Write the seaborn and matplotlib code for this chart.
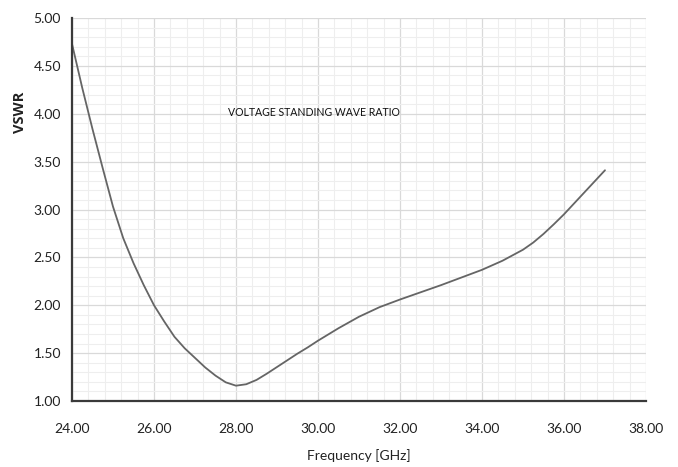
import matplotlib
matplotlib.use("Agg")
import matplotlib.pyplot as plt
from matplotlib.ticker import MultipleLocator, FormatStrFormatter
import seaborn as sns
import pandas as pd

freq_ghz = [24.0, 24.25, 24.5, 24.75, 25.0, 25.25, 25.5, 25.75, 26.0, 26.25,
            26.5, 26.75, 27.0, 27.25, 27.5, 27.75, 28.0, 28.25, 28.5, 28.75,
            29.0, 29.25, 29.5, 29.75, 30.0, 30.5, 31.0, 31.5, 32.0, 32.5,
            33.0, 33.5, 34.0, 34.5, 35.0, 35.25, 35.5, 35.75, 36.0, 36.25,
            36.5, 36.75, 37.0]
vswr = [4.73, 4.27, 3.84, 3.43, 3.03, 2.70, 2.44, 2.21, 2.00, 1.83,
        1.67, 1.55, 1.45, 1.35, 1.265, 1.195, 1.16, 1.175, 1.22, 1.285,
        1.355, 1.425, 1.495, 1.56, 1.63, 1.76, 1.88, 1.98, 2.06, 2.135,
        2.21, 2.29, 2.37, 2.465, 2.58, 2.655, 2.745, 2.845, 2.95, 3.065,
        3.18, 3.295, 3.41]

title_text = "VOLTAGE STANDING WAVE RATIO"
x_label = "Frequency [GHz]"
y_label = "VSWR"

df = pd.DataFrame({"freq": freq_ghz, "vswr": vswr})

sns.set_theme(style="white")
plt.rcParams["font.family"] = ["Lato", "DejaVu Sans"]

fig = plt.figure(figsize=(6.78, 4.67), dpi=100)
ax = fig.add_axes([72/678, 1-401/467, 574/678, 383/467])

sns.lineplot(data=df, x="freq", y="vswr", ax=ax, color="#656565", linewidth=1.3)

ax.set_xlim(24, 38)
ax.set_ylim(1, 5)
ax.xaxis.set_major_locator(MultipleLocator(2))
ax.xaxis.set_minor_locator(MultipleLocator(0.4))
ax.yaxis.set_major_locator(MultipleLocator(0.5))
ax.yaxis.set_minor_locator(MultipleLocator(0.1))
ax.xaxis.set_major_formatter(FormatStrFormatter("%.2f"))
ax.yaxis.set_major_formatter(FormatStrFormatter("%.2f"))

ax.grid(which="major", color="#d9d9d9", linewidth=0.9)
ax.grid(which="minor", color="#eeeeee", linewidth=0.8)
ax.set_axisbelow(True)

for s in ["top", "right"]:
    ax.spines[s].set_visible(False)
for s in ["left", "bottom"]:
    ax.spines[s].set_color("#3a3a3a")
    ax.spines[s].set_linewidth(1.6)

ax.tick_params(axis="both", which="both", length=0, labelsize=10, colors="#222222")
ax.tick_params(axis="x", pad=16)
ax.tick_params(axis="y", pad=8)

ax.set_xlabel(x_label, fontsize=10, color="#222222", labelpad=10)
ax.set_ylabel(y_label, fontsize=10.5, color="#222222", fontweight="bold",
              family=["Open Sans", "DejaVu Sans"])
ax.yaxis.set_label_coords(-0.078, 0.755)

ax.text(0.272, 0.752, title_text, transform=ax.transAxes, fontsize=7.6,
        color="#111111", ha="left", va="center")

fig.savefig("out.png", dpi=100, facecolor="white")
